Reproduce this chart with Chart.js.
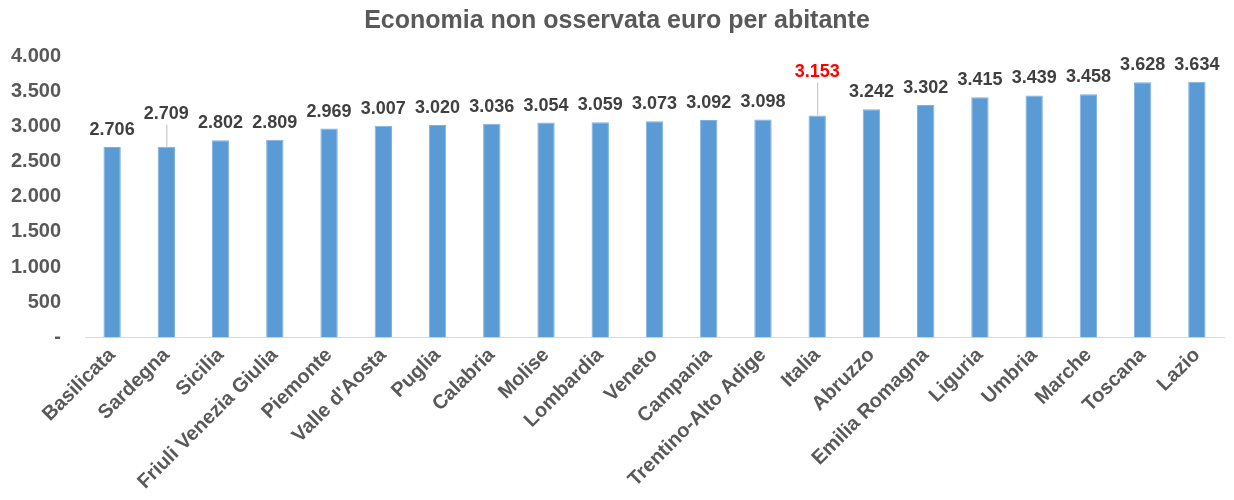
<!DOCTYPE html>
<html>
<head>
<meta charset="utf-8">
<script src="https://cdn.jsdelivr.net/npm/chart.js@4/dist/chart.umd.min.js"></script>
<style>
  body { margin: 0; background: #fff; }
  #wrap { width: 1234px; height: 500px; position: relative; }
</style>
</head>
<body>
<div id="wrap"><canvas id="chart"></canvas></div>
<script>
// regions, sorted by value
const regions = ['Basilicata', 'Sardegna', 'Sicilia', 'Friuli Venezia Giulia', 'Piemonte', "Valle d'Aosta",
  'Puglia', 'Calabria', 'Molise', 'Lombardia', 'Veneto', 'Campania', 'Trentino-Alto Adige', 'Italia',
  'Abruzzo', 'Emilia Romagna', 'Liguria', 'Umbria', 'Marche', 'Toscana', 'Lazio'];
const euroPerHead = [2706, 2709, 2802, 2809, 2969, 3007, 3020, 3036, 3054, 3059, 3073, 3092, 3098, 3153,
  3242, 3302, 3415, 3439, 3458, 3628, 3634];
const yTicks = [0, 500, 1000, 1500, 2000, 2500, 3000, 3500, 4000];

const FONT = "'Liberation Sans', Arial, sans-serif";

function fmt(v) {
  if (v === 0) return '-';
  return v.toString().replace(/\B(?=(\d{3})+(?!\d))/g, '.');
}

// labels over the bars, some pushed up with a small leader line (like excel)
const liftUp = { 'Sardegna': 16, 'Italia': 27 };
const barLabels = {
  id: 'barLabels',
  afterDatasetsDraw(chart) {
    const ctx = chart.ctx;
    const meta = chart.getDatasetMeta(0);
    ctx.save();
    ctx.font = 'bold 18px ' + FONT;
    ctx.textAlign = 'center';
    ctx.textBaseline = 'bottom';
    meta.data.forEach((bar, i) => {
      const name = regions[i];
      const lift = liftUp[name] || 0;
      const y = bar.y - 8 - lift;
      if (lift) {
        ctx.strokeStyle = '#bfbfbf';
        ctx.lineWidth = 1;
        ctx.beginPath();
        ctx.moveTo(bar.x + 0.5, bar.y);
        ctx.lineTo(bar.x + 0.5, y + 2);
        ctx.stroke();
      }
      ctx.fillStyle = name === 'Italia' ? '#ff0000' : '#404040';
      ctx.fillText(fmt(euroPerHead[i]), bar.x, y);
    });
    ctx.restore();
  }
};

const chart = document.querySelector('#chart').getContext('2d');

new Chart(chart, {
  type: 'bar',
  data: {
    labels: regions,
    datasets: [{
      data: euroPerHead,
      backgroundColor: '#5b9bd5',
      borderColor: '#7fb1e0',
      borderWidth: 1,
      barPercentage: 0.64,
      categoryPercentage: 0.5
    }]
  },
  options: {
    responsive: true,
    maintainAspectRatio: false,
    animation: false,
    layout: { padding: { left: 10, right: 10, top: 0, bottom: 0 } },
    plugins: {
      legend: { display: false },
      tooltip: { enabled: false },
      title: {
        display: true,
        text: 'Economia non osservata euro per abitante',
        color: '#595959',
        font: { family: FONT, size: 25, weight: 'bold' },
        padding: { top: 6, bottom: 20 }
      }
    },
    scales: {
      y: {
        min: 0,
        max: 4000,
        afterBuildTicks: (axis) => { axis.ticks = yTicks.map(v => ({ value: v })); },
        afterFit: (s) => { s.width = 75; },
        grid: { display: false, drawTicks: false },
        border: { display: false },
        ticks: {
          color: '#595959',
          padding: 24,
          font: { family: FONT, size: 20, weight: 'bold' },
          callback: (v) => fmt(v)
        }
      },
      x: {
        // the rotated first label may hang out to the left, don't push the plot for it
        afterFit: (s) => { s.paddingLeft = 0; s.paddingRight = 0; },
        grid: { display: false, drawTicks: false },
        border: { display: true, color: '#d9d9d9', width: 1 },
        ticks: {
          color: '#595959',
          minRotation: 45,
          maxRotation: 45,
          padding: 6,
          autoSkip: false,
          font: { family: FONT, size: 20, weight: 'bold' }
        }
      }
    }
  },
  plugins: [barLabels]
});
</script>
</body>
</html>
